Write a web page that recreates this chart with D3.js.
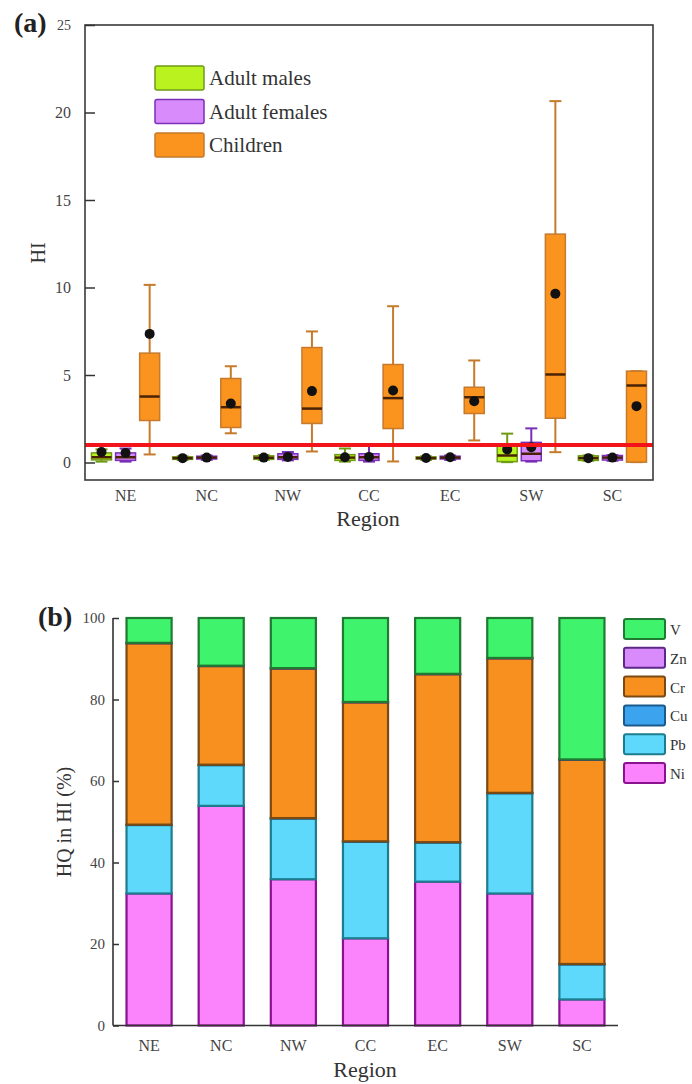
<!DOCTYPE html>
<html>
<head>
<meta charset="utf-8">
<script src="https://cdn.jsdelivr.net/npm/d3@7"></script>
<style>
  body { margin: 0; background: #fff; }
  svg text { font-family: "Liberation Serif", "Times New Roman", serif; }
</style>
</head>
<body>
<div id="chart"></div>
<script>
// ---- data ----
var regions = ["NE", "NC", "NW", "CC", "EC", "SW", "SC"];
var groups = ["Adult males", "Adult females", "Children"];
// [whisker low, q1, median, q3, whisker high, mean]
var adultMales = [
  [0.05, 0.15, 0.3, 0.55, 0.75, 0.6],
  [0.15, 0.18, 0.25, 0.32, 0.35, 0.25],
  [0.15, 0.18, 0.27, 0.38, 0.42, 0.28],
  [0.05, 0.12, 0.28, 0.45, 0.8, 0.3],
  [0.15, 0.2, 0.25, 0.32, 0.35, 0.26],
  [0.02, 0.05, 0.4, 0.95, 1.65, 0.75],
  [0.1, 0.12, 0.25, 0.38, 0.4, 0.25]
];
var adultFemales = [
  [0.05, 0.12, 0.3, 0.55, 0.8, 0.55],
  [0.15, 0.2, 0.28, 0.36, 0.4, 0.28],
  [0.12, 0.18, 0.3, 0.5, 0.6, 0.32],
  [0.05, 0.12, 0.3, 0.5, 0.95, 0.32],
  [0.15, 0.2, 0.28, 0.36, 0.4, 0.3],
  [0.05, 0.1, 0.5, 1.15, 1.95, 0.87],
  [0.1, 0.14, 0.28, 0.4, 0.42, 0.28]
];
var children = [
  [0.46, 2.4, 3.77, 6.25, 10.15, 7.35],
  [1.67, 2.0, 3.16, 4.8, 5.5, 3.37],
  [0.63, 2.23, 3.08, 6.57, 7.49, 4.08],
  [0.06, 1.94, 3.68, 5.6, 8.93, 4.11],
  [1.26, 2.8, 3.73, 4.3, 5.83, 3.5],
  [0.59, 2.53, 5.03, 13.05, 20.65, 9.64],
  [0.02, 0.02, 4.4, 5.22, 5.22, 3.22]
];
var hiTicks = [0, 5, 10, 15, 20, 25];
var hiThreshold = 1;

var metals = ["Ni", "Pb", "Cu", "Cr", "Zn", "V"];   // stack order, bottom to top
var legendMetals = ["V", "Zn", "Cr", "Cu", "Pb", "Ni"];
// share of HI (%) per region
var hqNi = [32.4, 53.9, 35.9, 21.4, 35.3, 32.4, 6.4];
var hqPb = [16.8, 10.0, 14.9, 23.7, 9.6, 24.6, 8.6];
var hqCu = [0.1, 0.1, 0.1, 0.1, 0.1, 0.1, 0.1];
var hqCr = [44.5, 24.2, 36.7, 34.1, 41.2, 33.0, 50.1];
var hqZn = [0.1, 0.1, 0.1, 0.1, 0.1, 0.1, 0.1];
var hqV  = [6.1, 11.7, 12.3, 20.6, 13.7, 9.8, 34.7];
var hqTicks = [0, 20, 40, 60, 80, 100];

var boxFill = {"Adult males": "#b9f21f", "Adult females": "#d88cfb", "Children": "#fb931f"};
var boxStroke = {"Adult males": "#6f9a16", "Adult females": "#7a2fb8", "Children": "#c57a2c"};
var metalFill = {V: "#3ff46c", Zn: "#d98bfb", Cr: "#f7901e", Cu: "#3ca3ef", Pb: "#5fd9fb", Ni: "#fb83fb"};
var metalStroke = {V: "#1f7a32", Zn: "#5b2a86", Cr: "#7a4a12", Cu: "#1b5a8c", Pb: "#1c7d8e", Ni: "#8a1290"};

var svg = d3.select("#chart").append("svg")
  .attr("width", 692).attr("height", 1084);

// ================= panel (a) =================
var a = {left: 85, right: 653, top: 25, bottom: 480};
var xa = d3.scaleBand().domain(regions).range([a.left, a.right]);
var xg = d3.scaleBand().domain(groups).range([-36, 36]).paddingInner(0.17).paddingOuter(0.08);
var ya = d3.scaleLinear().domain([-1, 25]).range([a.bottom, a.top]);

var pa = svg.append("g").attr("class", "panel-a");

var seriesA = [adultMales, adultFemales, children];
groups.forEach(function(grp, gi) {
  var data = seriesA[gi];
  var bw = xg.bandwidth();
  var g = pa.selectAll(".box-" + gi).data(data).enter().append("g")
    .attr("transform", function(d, i) {
      return "translate(" + (xa(regions[i]) + xa.bandwidth() / 2 + xg(grp) + bw / 2) + ",0)";
    });
  // whisker
  g.append("line")
    .attr("y1", function(d) { return ya(d[0]); })
    .attr("y2", function(d) { return ya(d[4]); })
    .attr("stroke", boxStroke[grp]).attr("stroke-width", 2);
  [0, 4].forEach(function(k) {
    g.append("line")
      .attr("x1", -bw * 0.3).attr("x2", bw * 0.3)
      .attr("y1", function(d) { return ya(d[k]); })
      .attr("y2", function(d) { return ya(d[k]); })
      .attr("stroke", boxStroke[grp]).attr("stroke-width", 2);
  });
  g.append("rect")
    .attr("x", -bw / 2).attr("width", bw)
    .attr("y", function(d) { return ya(d[3]); })
    .attr("height", function(d) { return Math.max(1, ya(d[1]) - ya(d[3])); })
    .attr("fill", boxFill[grp]).attr("stroke", boxStroke[grp]).attr("stroke-width", 1.5);
  g.append("line")
    .attr("x1", -bw / 2).attr("x2", bw / 2)
    .attr("y1", function(d) { return ya(d[2]); })
    .attr("y2", function(d) { return ya(d[2]); })
    .attr("stroke", "#4a2205").attr("stroke-width", 2.5);
  g.append("circle")
    .attr("cy", function(d) { return ya(d[5]); })
    .attr("r", 5).attr("fill", "#111");
});

// threshold line HI = 1
pa.append("line")
  .attr("x1", a.left).attr("x2", a.right)
  .attr("y1", ya(hiThreshold)).attr("y2", ya(hiThreshold))
  .attr("stroke", "#f2141a").attr("stroke-width", 4);

// frame
pa.append("rect")
  .attr("x", a.left).attr("y", a.top)
  .attr("width", a.right - a.left).attr("height", a.bottom - a.top)
  .attr("fill", "none").attr("stroke", "#3a3a3a").attr("stroke-width", 1.6);

// y axis
var yAxisA = pa.append("g").attr("transform", "translate(" + a.left + ",0)")
  .call(d3.axisRight(ya).tickValues(hiTicks).tickSize(10).tickFormat(d3.format("d")));
yAxisA.select(".domain").remove();
yAxisA.selectAll(".tick line").attr("stroke", "#333").attr("stroke-width", 1.5);
yAxisA.selectAll(".tick text").attr("x", -14).attr("text-anchor", "end")
  .attr("fill", "#444").style("font-size", function(d) { return d === 25 ? "14px" : "16px"; });

// x labels
pa.selectAll(".xlab").data(regions).enter().append("text")
  .attr("x", function(d) { return xa(d) + xa.bandwidth() / 2; })
  .attr("y", 501).attr("text-anchor", "middle")
  .attr("fill", "#444").style("font-size", "16px").text(function(d) { return d; });

pa.append("text").attr("x", 368).attr("y", 526).attr("text-anchor", "middle")
  .attr("fill", "#333").style("font-size", "22px").text("Region");
pa.append("text").attr("transform", "translate(45,253) rotate(-90)")
  .attr("text-anchor", "middle").attr("fill", "#333").style("font-size", "20px").text("HI");
pa.append("text").attr("x", 14).attr("y", 32)
  .style("font-size", "28px").style("font-weight", "bold").attr("fill", "#222").text("(a)");

// legend (a)
var legA = pa.selectAll(".lega").data(groups).enter().append("g")
  .attr("transform", function(d, i) { return "translate(155," + (66 + i * 33.5) + ")"; });
legA.append("rect").attr("width", 49).attr("height", 24).attr("rx", 2)
  .attr("fill", function(d) { return boxFill[d]; })
  .attr("stroke", function(d) { return boxStroke[d]; }).attr("stroke-width", 1.5);
legA.append("text").attr("x", 54).attr("y", 19)
  .attr("fill", "#333").style("font-size", "21px").text(function(d) { return d; });

// ================= panel (b) =================
var b = {left: 113, right: 618, top: 618, bottom: 1025.5};
var xb = d3.scaleBand().domain(regions).range([b.left, b.right])
  .paddingInner(0.375).paddingOuter(0.1875);
var yb = d3.scaleLinear().domain([0, 100]).range([b.bottom, b.top]);

var hqCols = {Ni: hqNi, Pb: hqPb, Cu: hqCu, Cr: hqCr, Zn: hqZn, V: hqV};
var table = regions.map(function(r, i) {
  var row = {region: r};
  metals.forEach(function(m) { row[m] = hqCols[m][i]; });
  return row;
});
var stacked = d3.stack().keys(metals)(table);

var pb = svg.append("g").attr("class", "panel-b");
pb.selectAll(".layer").data(stacked).enter().append("g")
  .attr("fill", function(d) { return metalFill[d.key]; })
  .attr("stroke", function(d) { return metalStroke[d.key]; })
  .selectAll("rect").data(function(d) { return d; }).enter().append("rect")
  .attr("x", function(d) { return xb(d.data.region); })
  .attr("width", xb.bandwidth())
  .attr("y", function(d) { return yb(d[1]); })
  .attr("height", function(d) { return yb(d[0]) - yb(d[1]); })
  .attr("stroke-width", 2.2);

// axes
var yAxisB = pb.append("g").attr("transform", "translate(" + b.left + ",0)")
  .call(d3.axisRight(yb).tickValues(hqTicks).tickSize(6).tickFormat(d3.format("d")));
yAxisB.select(".domain").remove();
yAxisB.selectAll(".tick line").attr("stroke", "#333").attr("stroke-width", 1.5);
yAxisB.selectAll(".tick text").attr("x", -8).attr("text-anchor", "end")
  .attr("fill", "#444").style("font-size", "15px");
pb.append("line").attr("x1", b.left).attr("x2", b.left).attr("y1", b.top).attr("y2", b.bottom)
  .attr("stroke", "#333").attr("stroke-width", 1.6);
pb.append("line").attr("x1", b.left).attr("x2", b.right).attr("y1", b.bottom).attr("y2", b.bottom)
  .attr("stroke", "#333").attr("stroke-width", 1.6);

pb.selectAll(".xlabb").data(regions).enter().append("text")
  .attr("x", function(d) { return xb(d) + xb.bandwidth() / 2; })
  .attr("y", 1051).attr("text-anchor", "middle")
  .attr("fill", "#444").style("font-size", "16px").text(function(d) { return d; });
pb.append("text").attr("x", 365).attr("y", 1077).attr("text-anchor", "middle")
  .attr("fill", "#333").style("font-size", "22px").text("Region");
pb.append("text").attr("transform", "translate(71,822) rotate(-90)")
  .attr("text-anchor", "middle").attr("fill", "#333").style("font-size", "20px").text("HQ in HI (%)");
pb.append("text").attr("x", 38).attr("y", 626)
  .style("font-size", "28px").style("font-weight", "bold").attr("fill", "#222").text("(b)");

// legend (b)
var legB = pb.selectAll(".legb").data(legendMetals).enter().append("g")
  .attr("transform", function(d, i) { return "translate(624," + (619 + i * 28.8) + ")"; });
legB.append("rect").attr("width", 41).attr("height", 20).attr("rx", 2)
  .attr("fill", function(d) { return metalFill[d]; })
  .attr("stroke", function(d) { return metalStroke[d]; }).attr("stroke-width", 2);
legB.append("text").attr("x", 46).attr("y", 16)
  .attr("fill", "#333").style("font-size", "15px").text(function(d) { return d; });
</script>
</body>
</html>
